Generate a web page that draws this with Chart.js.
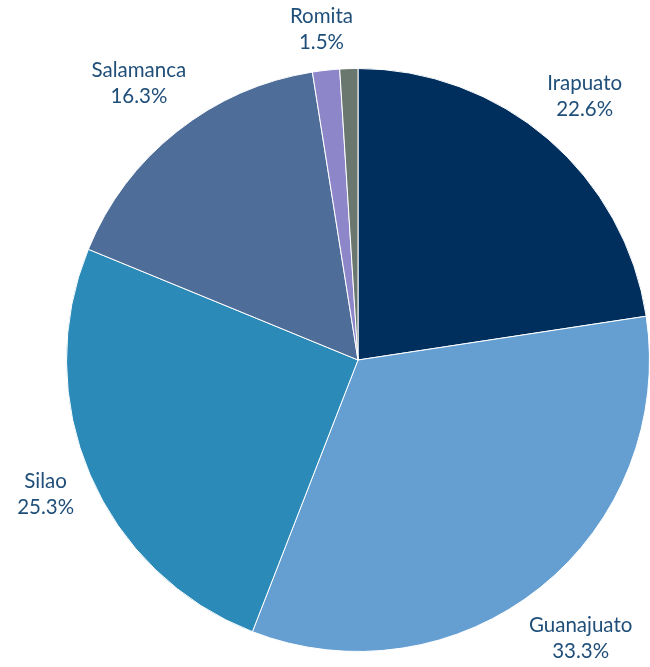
<!DOCTYPE html>
<html>
<head>
<meta charset="utf-8">
<script src="https://cdn.jsdelivr.net/npm/chart.js@4"></script>
<style>
  body { margin: 0; background: #fff; }
  #wrap { width: 650px; height: 667px; }
</style>
</head>
<body>
<div id="wrap"><canvas id="myChart"></canvas></div>
<script>
// Data
const municipios = ["Irapuato", "Guanajuato", "Silao", "Salamanca", "Romita", "Otros"];
const porcentajes = [22.6, 33.3, 25.3, 16.3, 1.5, 1.0];
const mostrarEtiqueta = [true, true, true, true, true, false];
const colores = ["#002f5e", "#659fd1", "#2b8ab8", "#4e6d99", "#8d86c9", "#69776f"];

const labelColor = "#1f4e79";
const labelFont = "20.5px Lato";
const lineHeight = 26;

// Draw "name / value%" outside each slice, pushed out by the box size
const outsideLabels = {
    id: "outsideLabels",
    afterDatasetsDraw(chart) {
        const ctx = chart.ctx;
        const meta = chart.getDatasetMeta(0);
        ctx.save();
        ctx.font = labelFont;
        ctx.fillStyle = labelColor;
        ctx.textAlign = "center";
        ctx.textBaseline = "middle";
        meta.data.forEach((arc, i) => {
            if (!mostrarEtiqueta[i]) return;
            const p = arc.getProps(["x", "y", "startAngle", "endAngle", "outerRadius"], true);
            const mid = (p.startAngle + p.endAngle) / 2;
            const lines = [municipios[i], porcentajes[i].toFixed(1) + "%"];
            const halfW = Math.max(...lines.map(t => ctx.measureText(t).width)) / 2;
            const halfH = lineHeight;
            const ux = Math.cos(mid), uy = Math.sin(mid);
            const d = p.outerRadius + 12 + halfW * Math.abs(ux) + halfH * Math.abs(uy);
            const cx = p.x + ux * d;
            const cy = p.y + uy * d;
            ctx.fillText(lines[0], cx, cy - lineHeight / 2);
            ctx.fillText(lines[1], cx, cy + lineHeight / 2);
        });
        ctx.restore();
    }
};

new Chart("myChart", {
    type: "pie",
    data: {
        labels: municipios,
        datasets: [{
            data: porcentajes,
            backgroundColor: colores,
            borderColor: "#ffffff",
            borderWidth: 1
        }]
    },
    options: {
        responsive: true,
        maintainAspectRatio: false,
        animation: false,
        layout: {
            padding: { left: 66, right: 0, top: 67, bottom: 14 }
        },
        plugins: {
            legend: { display: false },
            tooltip: { enabled: false }
        }
    },
    plugins: [outsideLabels]
});
</script>
</body>
</html>
